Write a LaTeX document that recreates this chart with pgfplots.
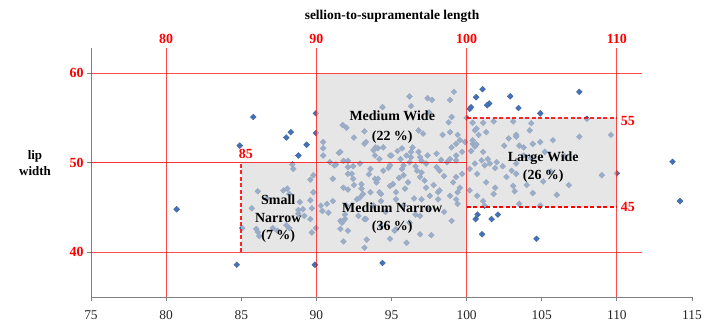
\documentclass[border=0pt]{standalone}
\usepackage{pgfplots}
\pgfplotsset{compat=1.18}
\usepackage{fontspec}
\setmainfont{Liberation Serif}
\definecolor{ptblue}{RGB}{68,114,182}
\definecolor{ovl}{RGB}{214,214,214}
\definecolor{axgray}{RGB}{128,128,128}
\begin{document}
\begin{tikzpicture}
\begin{axis}[
 set layers,
 scale only axis, width=601bp, height=249bp,
 xmin=75, xmax=115, ymin=35, ymax=62.8,
 axis x line*=bottom, axis y line*=left,
 axis line style={axgray, line width=1bp, -},
 xtick={75,80,...,115}, ytick={40,50,60},
 tick align=outside, major tick length=4bp,
 tick style={axgray, line width=0.8bp},
 xticklabel style={font=\fontsize{13.5}{15}\selectfont, text=black!85, yshift=-6bp},
 yticklabel style={font=\fontsize{14}{16}\selectfont\bfseries, text=red},
 /pgf/number format/assume math mode=true,
 clip=false,
]
% data points
\addplot[only marks, mark=square*, mark size=2.1bp,
  mark options={rotate=45, fill=ptblue, draw=ptblue!85!black, line width=0.3bp}]
coordinates {
(80.7,44.8)(84.7,38.6)(89.9,38.6)(94.4,38.8)(85.8,55.1)(84.9,51.9)(88.0,52.8)(88.3,53.4)
(88.8,50.8)(89.35,52.0)(89.97,55.5)(89.97,53.3)(101.06,58.2)(100.63,57.3)(101.5,56.6)(101.36,56.4)
(100.3,56.2)(100.2,56.0)(102.9,57.4)(103.45,56.1)(100.0,55.0)(107.5,57.9)(104.9,55.5)(108.0,54.9)
(113.7,50.1)(114.2,45.7)(100.73,44.2)(100.6,43.7)(101.66,43.7)(102.08,44.2)(101.03,42.0)(104.65,41.5)
(110.0,48.8)
(85.07,42.7)(86.1,46.8)(86.7,46.0)(85.7,44.9)(86.0,42.6)(87.1,42.7)(87.8,46.9)(88.06,47.1)
(88.2,46.5)(88.9,45.6)(88.8,44.7)(89.1,44.8)(89.6,48.1)(89.8,46.7)(89.6,45.8)(89.7,44.9)
(89.6,43.7)(89.97,42.7)(88.4,49.8)(88.46,49.3)(88.8,44.3)(89.2,44.05)(89.7,42.2)(89.8,48.6)
(86.1,42.25)(86.2,41.8)(87.4,42.4)(88.0,43.0)(88.2,42.7)
(91.75,54.2)(92.0,53.9)(90.45,52.3)(90.45,51.6)(90.45,50.8)(91.5,51.1)(91.8,50.2)(92.1,50.2)
(96.2,57.4)(94.4,56.2)(96.3,56.3)(91.6,51.2)(93.2,52.1)(93.8,51.4)(94.1,51.6)(94.2,50.4)
(94.9,50.8)(95.4,51.3)(95.6,50.4)(96.0,50.8)(96.2,50.05)(96.8,51.2)(96.4,51.7)(97.0,50.2)
(97.4,57.2)(97.7,57.0)(99.15,57.9)(98.9,57.0)(99.0,55.1)(97.1,53.25)(98.4,53.1)(98.9,53.4)
(99.4,53.1)(99.55,52.5)(99.3,52.1)(99.0,51.7)(99.9,52.3)(93.3,52.3)(93.95,51.7)(93.9,50.8)
(94.45,51.7)(95.7,51.6)(95.0,50.8)(96.3,51.2)(96.9,50.6)(97.4,50.8)(98.0,51.0)(98.3,50.3)
(98.9,50.4)(99.3,50.8)(99.7,51.2)(96.3,50.6)(98.7,50.05)(99.3,50.25)(97.5,55.6)(98.8,54.5)
(96.8,53.6)(93.2,53.5)(92.5,52.8)(90.9,50.05)(91.3,49.8)
(91.2,49.7)(92.1,49.5)(92.9,49.9)(93.6,49.3)(94.8,49.4)(95.7,49.3)(96.6,49.6)(92.35,48.75)
(92.45,49.6)(93.2,40.5)(93.35,41.4)(94.9,41.5)(97.65,41.9)(96.9,44.05)(95.3,42.55)(94.3,42.9)
(93.2,43.7)(99.4,45.4)(99.3,45.9)(98.9,46.3)(99.4,46.7)(99.55,47.2)(99.1,47.8)(99.3,48.4)
(99.7,48.75)(98.1,45.9)(98.1,46.7)(98.2,46.9)(97.55,46.3)(97.3,47.2)(97.2,48.0)(96.9,48.4)
(96.7,49.1)(97.0,48.9)(96.1,47.8)(95.8,48.6)(95.1,47.6)(94.3,46.5)(93.6,46.7)(93.0,47.1)
(92.7,45.9)(93.9,48.2)(94.45,49.1)(94.9,49.7)(95.8,49.7)(97.3,49.9)(98.2,49.1)
(90.3,45.2)(90.4,44.6)(90.8,44.4)(90.7,45.4)(91.1,45.7)(92.0,45.2)(91.8,47.2)(92.1,48.75)
(92.45,48.2)(91.1,48.2)(91.6,43.5)(91.7,43.3)(91.9,43.7)(92.1,42.4)(92.8,44.05)
(92.1,47.0)(93.0,47.6)(93.1,46.5)(92.9,46.1)(94.1,48.2)(94.9,47.4)(95.3,46.7)(95.9,47.1)
(94.2,46.7)(94.3,45.7)(95.3,45.9)(97.0,45.9)(91.9,44.2)(91.8,43.5)(91.6,42.6)(93.3,43.7)
(96.6,44.2)(96.2,43.3)(96.9,42.0)(95.2,42.4)(96.0,41.05)(91.8,41.2)
(98.5,48.5)(98.0,49.5)(97.8,47.5)(96.5,46.0)(95.5,48.3)(94.0,47.8)(93.5,48.7)(92.5,47.5)
(97.5,44.8)(98.5,44.5)(99.0,43.5)(95.8,45.2)(94.6,44.5)(93.8,45.2)
(100.4,54.45)(101.1,54.45)(101.8,54.6)(100.55,53.6)(100.8,53.1)(100.4,52.1)(100.65,52.05)(100.55,51.8)
(100.3,51.3)(101.1,51.2)(101.4,50.4)(101.55,49.9)(101.2,49.7)(102.0,50.05)(101.9,49.4)(102.4,49.6)
(102.8,52.7)(103.3,53.1)(103.5,51.9)(104.9,52.3)(105.75,52.5)(107.5,52.9)(109.6,53.1)(104.4,52.1)
(109.0,48.6)(106.8,47.5)(104.4,46.6)(104.9,45.2)(103.5,45.4)(103.1,47.4)(102.65,48.4)(103.0,49.1)
(103.3,48.75)(103.3,49.9)(101.2,45.2)(101.1,45.7)(101.8,46.5)(101.9,47.2)(101.3,47.8)(100.7,48.75)
(100.2,49.3)(100.55,49.9)(101.0,50.25)(100.2,46.9)(100.7,46.3)(103.2,46.8)(104.0,47.5)(105.1,47.9)
(106.0,46.4)(105.6,49.0)(104.3,50.5)(106.5,50.7)(105.2,51.2)(103.8,50.8)
(100.66,53.8)(100.4,52.5)(101.3,53.4)(103.1,54.6)(104.3,54.4)(104.2,53.6)(103.3,52.9)(102.5,51.9)
(103.8,51.7)
};
\begin{pgfonlayer}{axis foreground}
% translucent grey zones
\fill[ovl, fill opacity=0.6] (axis cs:90,40) rectangle (axis cs:100,60);
\fill[ovl, fill opacity=0.6] (axis cs:85,40) rectangle (axis cs:90,50);
\fill[ovl, fill opacity=0.6] (axis cs:100,45) rectangle (axis cs:110,55);
% red grid
\draw[red, draw opacity=0.7, line width=1bp] (axis cs:80,35) -- (axis cs:80,62.8);
\draw[red, draw opacity=0.7, line width=1bp] (axis cs:90,35) -- (axis cs:90,62.8);
\draw[red, draw opacity=0.7, line width=1bp] (axis cs:100,35) -- (axis cs:100,62.8);
\draw[red, draw opacity=0.7, line width=1bp] (axis cs:110,35) -- (axis cs:110,62.8);
\draw[red, draw opacity=0.7, line width=1bp] (axis cs:75,60) -- (axis cs:111.7,60);
\draw[red, draw opacity=0.7, line width=1bp] (axis cs:75,40) -- (axis cs:111.7,40);
\draw[red, draw opacity=0.8, line width=1bp] (axis cs:75,50) -- (axis cs:100,50);
% dashed zone borders
\draw[red, draw opacity=0.85, line width=1.7bp, dash pattern=on 4bp off 2.5bp] (axis cs:85,40) -- (axis cs:85,50);
\draw[red, draw opacity=0.85, line width=1.4bp, dash pattern=on 4bp off 2.5bp] (axis cs:100,55) -- (axis cs:110,55);
\draw[red, line width=2bp, dash pattern=on 4bp off 2.5bp] (axis cs:100,45) -- (axis cs:110,45);
% red labels
\node[text=red, font=\fontsize{14}{16}\selectfont\bfseries, anchor=base] at (axis cs:80,63.3) {80};
\node[text=red, font=\fontsize{14}{16}\selectfont\bfseries, anchor=base] at (axis cs:90,63.3) {90};
\node[text=red, font=\fontsize{14}{16}\selectfont\bfseries, anchor=base] at (axis cs:100,63.3) {100};
\node[text=red, font=\fontsize{14}{16}\selectfont\bfseries, anchor=base] at (axis cs:110,63.3) {110};
\node[text=red, font=\fontsize{14}{16}\selectfont\bfseries, anchor=base] at (axis cs:85.3,50.45) {85};
\node[text=red, font=\fontsize{14}{16}\selectfont\bfseries, anchor=base west, inner sep=0pt] at (axis cs:110.25,54.2) {55};
\node[text=red, font=\fontsize{14}{16}\selectfont\bfseries, anchor=base west, inner sep=0pt] at (axis cs:110.25,44.6) {45};
% zone labels
\node[font=\fontsize{14}{20}\selectfont\bfseries, align=center] at (axis cs:95.05,53.95) {Medium Wide\\(22 \%)};
\node[font=\fontsize{14}{19}\selectfont\bfseries, align=center] at (axis cs:95.05,43.8) {Medium Narrow\\(36 \%)};
\node[font=\fontsize{14}{17.5}\selectfont\bfseries, align=center] at (axis cs:87.46,43.7) {Small\\Narrow\\(7 \%)};
\node[font=\fontsize{14}{19}\selectfont\bfseries, align=center] at (axis cs:105.1,49.5) {Large Wide\\(26 \%)};
\end{pgfonlayer}
\end{axis}
\node[font=\fontsize{13.5}{16}\selectfont\bfseries] at (301bp,281bp) {sellion-to-supramentale length};
\node[font=\fontsize{13}{16}\selectfont\bfseries, align=center] at (-56bp,134bp) {lip\\width};
\pgfresetboundingbox
\path[use as bounding box] (-91bp,-25bp) rectangle (615bp,297bp);
\end{tikzpicture}
\end{document}
